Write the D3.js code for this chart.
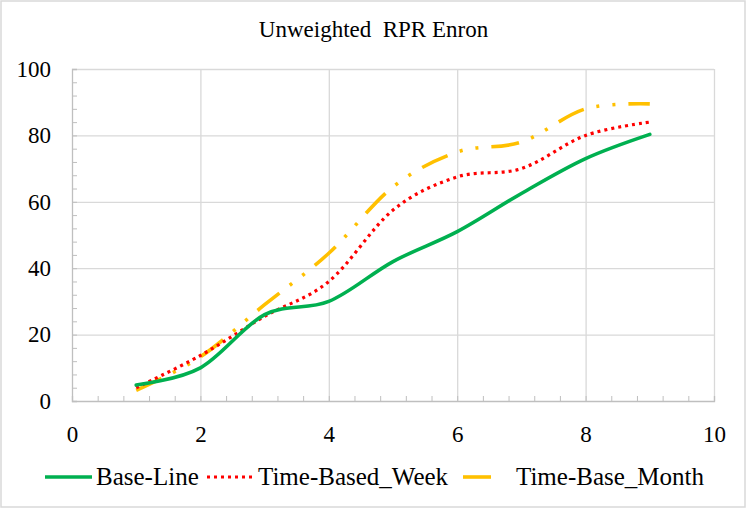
<!DOCTYPE html>
<html>
<head>
<meta charset="utf-8">
<script src="https://cdn.jsdelivr.net/npm/d3@7"></script>
<style>
  html, body { margin: 0; padding: 0; background: #fff; }
  svg { display: block; }
  svg text { font-family: "Times New Roman", "Liberation Serif", "DejaVu Serif", serif !important; }
</style>
</head>
<body>
<div id="chart"></div>
<script>
// values
const xValues = [1, 2, 3, 4, 5, 6, 7, 8, 9];
const baseLine = [4.8, 10, 26, 30, 42, 51, 62.5, 73, 80.3];
const timeBasedWeek = [4, 13.7, 25.5, 36, 57.5, 67.5, 70, 80, 84];
const timeBaseMonth = [3.2, 13.3, 29, 44.5, 64.5, 75, 78, 88, 89.5];
const xTicks = [0, 2, 4, 6, 8, 10];
const yTicks = [0, 20, 40, 60, 80, 100];
const seriesNames = ['Base-Line', 'Time-Based_Week', 'Time-Base_Month'];

const W = 747, H = 509;
const M = { t: 69, r: 33, b: 108, l: 72 };

const svg = d3.select('#chart').append('svg')
  .attr('width', W)
  .attr('height', H)
  .attr('viewBox', `0 0 ${W} ${H}`);

svg.append('rect')
  .attr('x', 1).attr('y', 1)
  .attr('width', W - 3).attr('height', H - 3)
  .attr('fill', '#fff')
  .attr('stroke', '#d9d9d9')
  .attr('stroke-width', 1.5);

const x = d3.scaleLinear().domain([0, 10]).range([M.l, W - M.r]);
const y = d3.scaleLinear().domain([0, 100]).range([H - M.b, M.t]);

// gridlines
svg.append('g')
  .attr('transform', `translate(0,${H - M.b})`)
  .call(d3.axisBottom(x).tickValues(xTicks.slice(1)).tickSize(-(H - M.b - M.t)).tickFormat(''))
  .call(g => g.select('.domain').remove())
  .call(g => g.selectAll('line').attr('stroke', '#d9d9d9').attr('stroke-width', 1.3));
svg.append('g')
  .attr('transform', `translate(${M.l},0)`)
  .call(d3.axisLeft(y).tickValues(yTicks.slice(1)).tickSize(-(W - M.l - M.r)).tickFormat(''))
  .call(g => g.select('.domain').remove())
  .call(g => g.selectAll('line').attr('stroke', '#d9d9d9').attr('stroke-width', 1.3));

// minor ticks (inside)
svg.append('g')
  .attr('transform', `translate(0,${H - M.b})`)
  .call(d3.axisBottom(x).tickValues(d3.range(0, 10.01, 0.4)).tickSize(-5).tickFormat(''))
  .call(g => g.select('.domain').attr('stroke', '#bfbfbf').attr('stroke-width', 1.3))
  .call(g => g.selectAll('line').attr('stroke', '#bfbfbf'));
svg.append('g')
  .attr('transform', `translate(${M.l},0)`)
  .call(d3.axisLeft(y).tickValues(d3.range(0, 100.1, 4)).tickSize(-5).tickFormat(''))
  .call(g => g.select('.domain').attr('stroke', '#bfbfbf').attr('stroke-width', 1.3))
  .call(g => g.selectAll('line').attr('stroke', '#bfbfbf'));

// tick labels
svg.append('g')
  .attr('transform', `translate(0,${H - M.b})`)
  .call(d3.axisBottom(x).tickValues(xTicks).tickSize(0).tickPadding(25))
  .call(g => g.select('.domain').remove())
  .call(g => g.selectAll('text').attr('fill', '#000').style('font-size', '23px'));
svg.append('g')
  .attr('transform', `translate(${M.l},0)`)
  .call(d3.axisLeft(y).tickValues(yTicks).tickSize(0).tickPadding(21))
  .call(g => g.select('.domain').remove())
  .call(g => g.selectAll('text').attr('fill', '#000').style('font-size', '23px'));

// title
svg.append('text')
  .attr('x', W / 2)
  .attr('y', 37)
  .attr('text-anchor', 'middle')
  .style('font-size', '23px')
  .text('Unweighted \u00a0RPR Enron');

const line = d3.line()
  .x((d, i) => x(xValues[i]))
  .y(d => y(d))
  .curve(d3.curveCatmullRom.alpha(0));

const styles = [
  { color: '#00b050', width: 3.6, dash: null, cap: 'round' },
  { color: '#ff0000', width: 3.2, dash: '3 4', cap: 'butt' },
  { color: '#ffc000', width: 3.6, dash: '28 13 3 13 3 13', cap: 'butt' }
];
const allSeries = [baseLine, timeBasedWeek, timeBaseMonth];

// draw month first, then week, then baseline on top
[2, 1, 0].forEach(k => {
  const s = styles[k];
  svg.append('path')
    .datum(allSeries[k])
    .attr('fill', 'none')
    .attr('stroke', s.color)
    .attr('stroke-width', s.width)
    .attr('stroke-linecap', s.cap)
    .attr('stroke-dasharray', s.dash)
    .attr('d', line);
});

// legend
const legendY = 477;
const legendItems = [
  { x0: 45, x1: 92, tx: 96 },
  { x0: 207, x1: 252, tx: 258 },
  { x0: 463, x1: 495, tx: 516 }
];
legendItems.forEach((it, k) => {
  const s = styles[k];
  svg.append('line')
    .attr('x1', it.x0).attr('x2', it.x1)
    .attr('y1', legendY).attr('y2', legendY)
    .attr('stroke', s.color)
    .attr('stroke-width', s.width)
    .attr('stroke-dasharray', s.dash);
  svg.append('text')
    .attr('x', it.tx)
    .attr('y', legendY + 8)
    .style('font-size', '25px')
    .text(seriesNames[k]);
});
</script>
</body>
</html>
